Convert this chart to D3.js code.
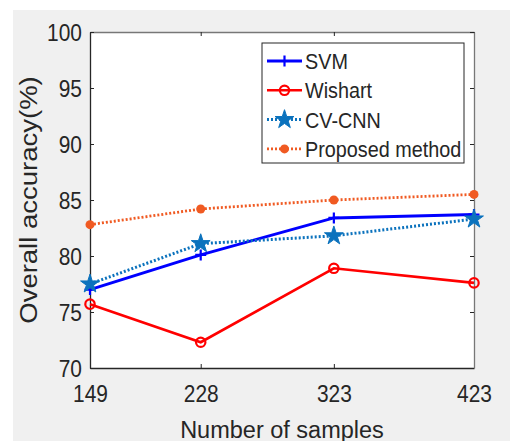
<!DOCTYPE html>
<html>
<head>
<meta charset="utf-8">
<script src="https://cdn.jsdelivr.net/npm/d3@7"></script>
<style>
  body { margin: 0; background: #fff; }
  text { font-family: "Liberation Sans", Arial, sans-serif; fill: #262626; }
</style>
</head>
<body>
<svg id="my-svg" width="510" height="441"></svg>
<script>
// data
const samples = [149, 228, 323, 423];
const svmAcc = [77.0, 80.1, 83.4, 83.7];
const wishartAcc = [75.7, 72.3, 78.9, 77.6];
const cvcnnAcc = [77.5, 81.1, 81.8, 83.3];
const proposedAcc = [82.8, 84.2, 85.0, 85.5];
const yTicks = [70, 75, 80, 85, 90, 95, 100];

const series = [
  {name: "SVM", values: svmAcc, color: "#0000ff", width: 3, dash: null, marker: "plus"},
  {name: "Wishart", values: wishartAcc, color: "#ff0000", width: 2.6, dash: null, marker: "circle"},
  {name: "CV-CNN", values: cvcnnAcc, color: "#0b72bd", width: 3, dash: "2,2", marker: "star"},
  {name: "Proposed method", values: proposedAcc, color: "#f05a22", width: 2.8, dash: "2,2", marker: "dot"}
];

const svg = d3.select("#my-svg"),
      margin = {top: 32, right: 36, bottom: 73, left: 90},
      width = 510 - margin.left - margin.right,
      height = 441 - margin.top - margin.bottom;

// figure background
svg.append("rect").attr("x", 13).attr("y", 10).attr("width", 497).attr("height", 431).attr("fill", "#f0f0f0");

const x = d3.scaleLinear().domain([149, 423]).range([0, width]);
const y = d3.scaleLinear().domain([70, 100]).range([height, 0]);

const g = svg.append("g").attr("transform", `translate(${margin.left},${margin.top})`);
g.append("rect").attr("width", width).attr("height", height).attr("fill", "#fff");

// axes, ticks inward, box on
const xAxis = g.append("g").attr("transform", `translate(0,${height})`)
  .call(d3.axisBottom(x).tickValues(samples).tickSizeInner(-4).tickSizeOuter(0).tickPadding(12));
const xTop = g.append("g")
  .call(d3.axisTop(x).tickValues(samples).tickSizeInner(-4).tickSizeOuter(0).tickFormat(""));
const yAxis = g.append("g")
  .call(d3.axisLeft(y).tickValues(yTicks).tickSizeInner(-4).tickSizeOuter(0).tickPadding(10));
const yRight = g.append("g").attr("transform", `translate(${width},0)`)
  .call(d3.axisRight(y).tickValues(yTicks).tickSizeInner(-4).tickSizeOuter(0).tickFormat(""));

[xAxis, xTop, yAxis, yRight].forEach(a => {
  a.select(".domain").attr("stroke", "#262626").attr("stroke-width", 1.3);
  a.selectAll(".tick line").attr("stroke", "#262626");
});
[xTop, yRight].forEach(a => a.select(".domain").attr("stroke", "#777"));

// tick labels, slightly narrowed like the original
xAxis.selectAll(".tick text").each(function() {
  const t = d3.select(this);
  t.attr("font-size", 23.5).attr("fill", "#262626").attr("font-family", "Liberation Sans")
    .attr("y", null).attr("dy", null)
    .attr("transform", "translate(0,34) scale(0.89,1)");
});
yAxis.selectAll(".tick text").each(function() {
  const t = d3.select(this);
  t.attr("font-size", 23.5).attr("fill", "#262626").attr("font-family", "Liberation Sans")
    .attr("x", null).attr("dy", "0.36em")
    .attr("transform", "translate(-8,0) scale(0.89,1)");
});

// axis titles
svg.append("text").attr("x", 282).attr("y", 438).attr("text-anchor", "middle")
  .attr("font-size", 23.5).text("Number of samples");
svg.append("text").attr("transform", "translate(37,200) rotate(-90) scale(1,0.85)")
  .attr("text-anchor", "middle").attr("font-size", 27.5).text("Overall accuracy(%)");

// marker drawing
function drawMarker(sel, s, cx, cy) {
  if (s.marker === "plus") {
    sel.append("path").attr("d", `M${cx - 5.5},${cy}H${cx + 5.5}M${cx},${cy - 5.5}V${cy + 5.5}`)
      .attr("stroke", s.color).attr("stroke-width", 2.2).attr("fill", "none");
  } else if (s.marker === "circle") {
    sel.append("circle").attr("cx", cx).attr("cy", cy).attr("r", 4.7)
      .attr("fill", "none").attr("stroke", s.color).attr("stroke-width", 2.2);
  } else if (s.marker === "star") {
    sel.append("path").attr("d", d3.symbol(d3.symbolStar, 110)())
      .attr("transform", `translate(${cx},${cy})`).attr("fill", s.color).attr("stroke", s.color);
  } else {
    sel.append("circle").attr("cx", cx).attr("cy", cy).attr("r", 4.5).attr("fill", s.color);
  }
}

const line = d3.line().x((d, i) => x(samples[i])).y(d => y(d));

series.forEach(s => {
  const sg = g.append("g");
  sg.append("path").datum(s.values).attr("d", line)
    .attr("fill", "none").attr("stroke", s.color).attr("stroke-width", s.width)
    .attr("stroke-dasharray", s.dash);
  s.values.forEach((v, i) => drawMarker(sg, s, x(samples[i]), y(v)));
});

// legend
const lg = svg.append("g").attr("transform", "translate(262,43)");
lg.append("rect").attr("width", 202).attr("height", 120).attr("fill", "#fff")
  .attr("stroke", "#262626").attr("stroke-width", 1);
series.forEach((s, i) => {
  const ly = 18 + i * 29.3;
  lg.append("line").attr("x1", 5).attr("x2", 40).attr("y1", ly).attr("y2", ly)
    .attr("stroke", s.color).attr("stroke-width", s.width).attr("stroke-dasharray", s.dash);
  drawMarker(lg, s, 22.5, ly);
  lg.append("text").attr("transform", `translate(43,${ly + 8}) scale(0.88,1)`)
    .attr("font-size", 22.5).attr("fill", "#000").text(s.name);
});
</script>
</body>
</html>
